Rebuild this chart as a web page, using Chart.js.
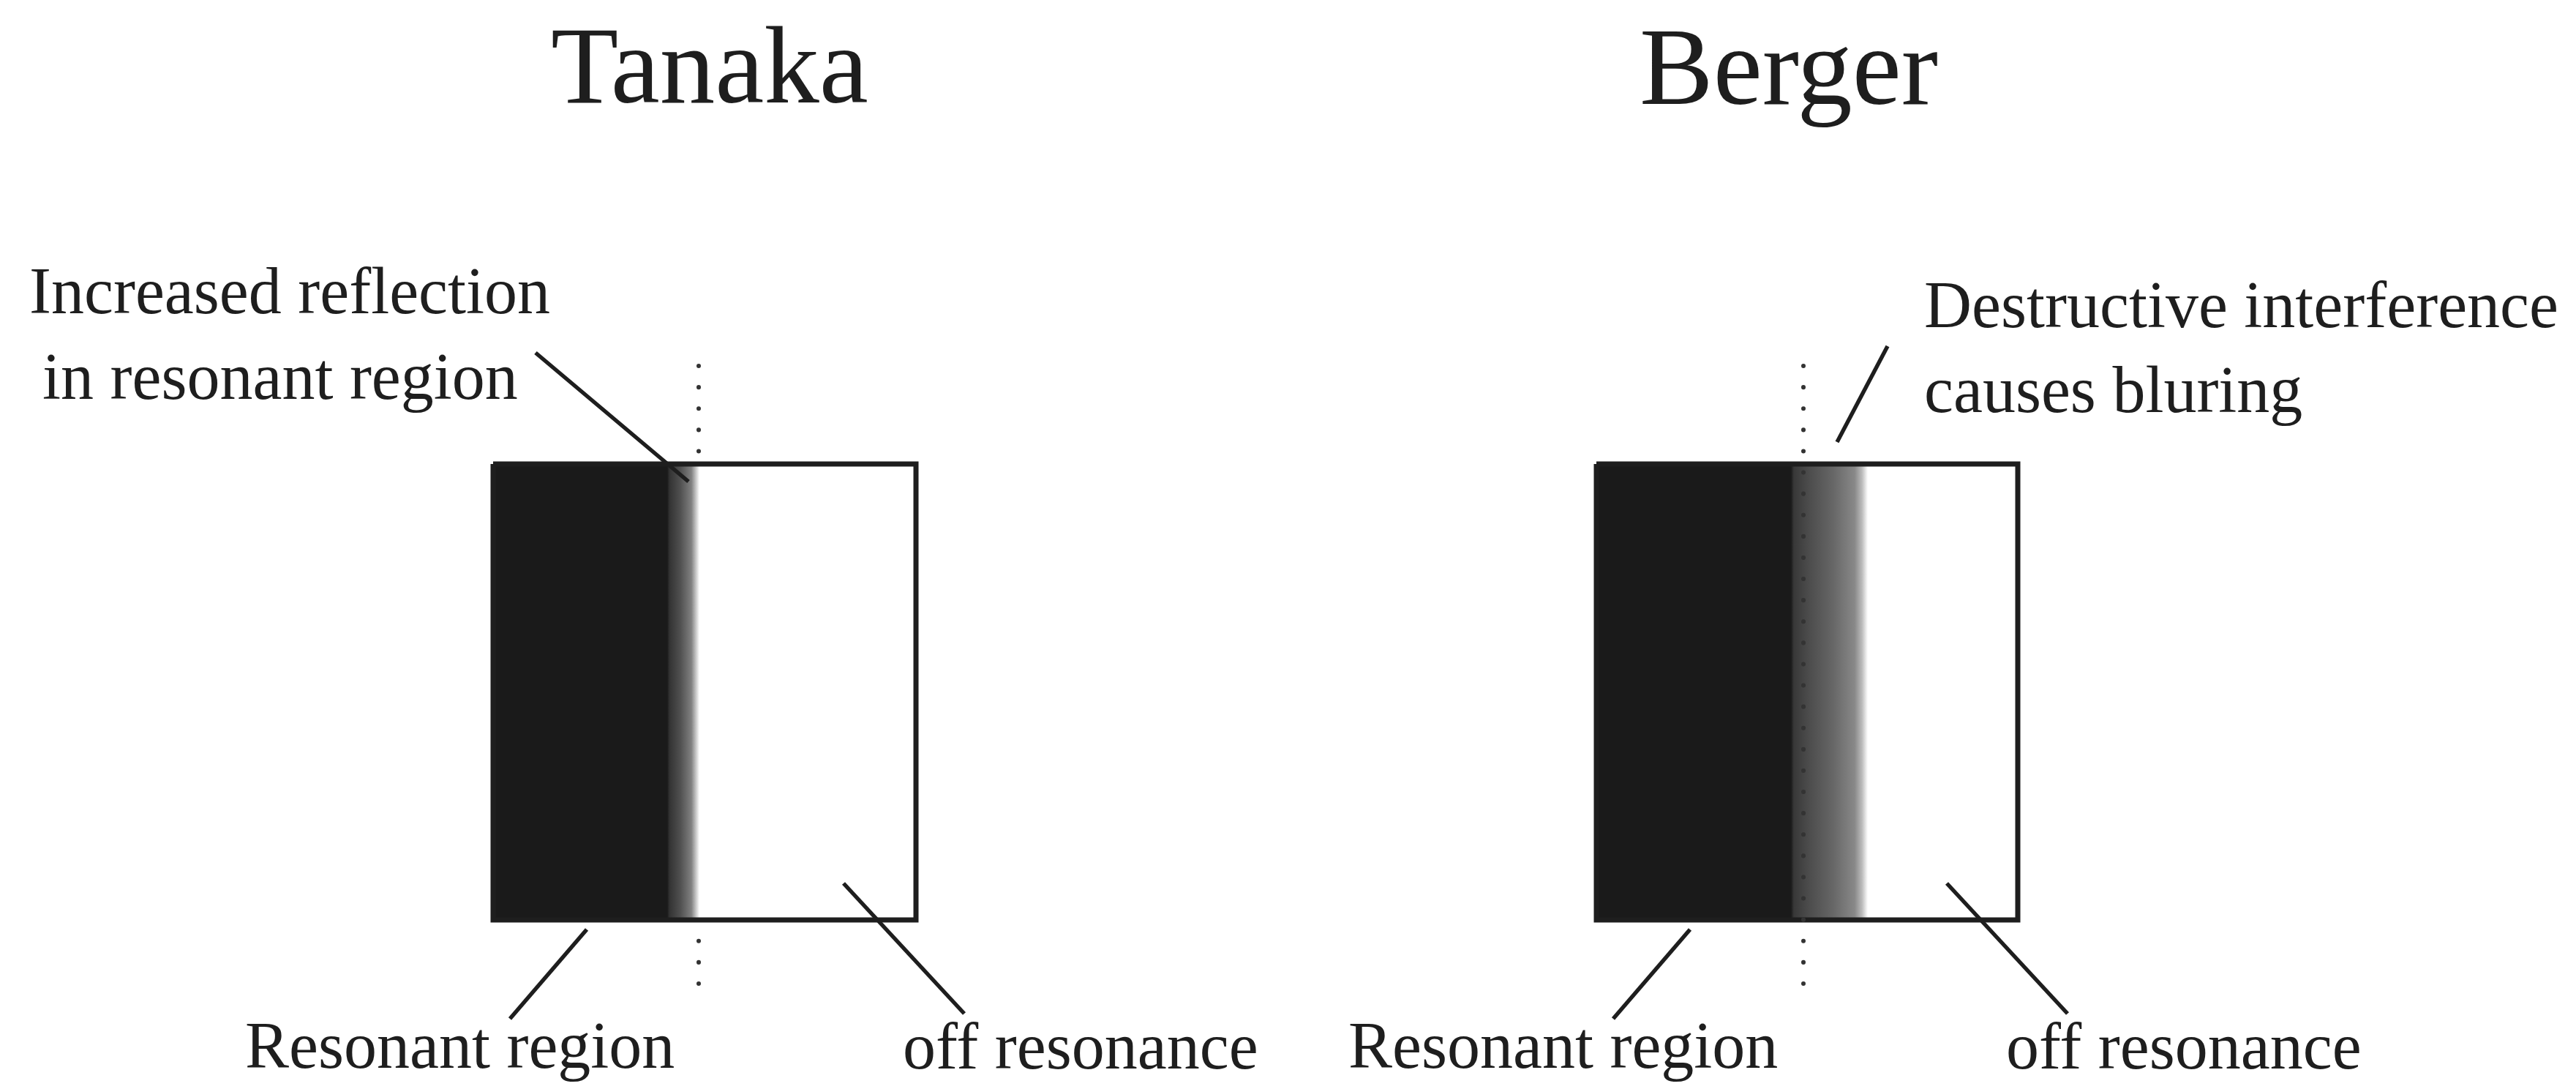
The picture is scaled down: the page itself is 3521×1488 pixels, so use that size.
<!DOCTYPE html>
<html>
<head>
<meta charset="utf-8">
<script src="https://cdn.jsdelivr.net/npm/chart.js@4/dist/chart.umd.min.js"></script>
<style>
  html, body { margin: 0; padding: 0; background: #ffffff; }
  #wrap { width: 3521px; height: 1488px; }
</style>
</head>
<body>
<div id="wrap"><canvas id="chart" width="3521" height="1488"></canvas></div>
<script>
// panels (diagram coordinates are in picture pixels, y grows downwards)
const panelTitles = ["Tanaka", "Berger"];
const titleX = [753, 2241];
const titleY = [140, 142];

const boxLeft = [674, 2182];
const boxRight = [1252, 2758];
const boxTop = [634, 634];
const boxBottom = [1257, 1257];

// grey level across the resonance edge of each box
const tanakaFadeX = [912, 915, 930, 945, 952, 956];
const tanakaFadeGrey = [26, 51, 80, 128, 208, 255];
const bergerFadeX = [2448, 2452, 2470, 2505, 2535, 2545, 2553];
const bergerFadeGrey = [26, 56, 74, 102, 136, 187, 255];

// dotted centre lines (the left one is hidden behind its box)
const dottedX = [955, 2465];
const dottedTop = [500, 500];
const dottedBottom = [1370, 1368];
const dottedBehind = [true, false];

// pointer lines: x1, y1, x2, y2
const pointers = [
  [732, 482, 941, 658],
  [2580, 473, 2511, 604],
  [802, 1270, 697, 1392],
  [1153, 1207, 1318, 1385],
  [2310, 1270, 2205, 1392],
  [2661, 1207, 2826, 1385]
];

// annotation texts with their left edge and baseline
const noteText = [
  "Increased reflection", "in resonant region",
  "Destructive interference", "causes bluring",
  "Resonant region", "off resonance",
  "Resonant region", "off resonance"
];
const noteX = [40, 58, 2630, 2630, 335, 1234, 1843, 2742];
const noteY = [428, 545, 447, 563, 1459, 1460, 1459, 1460];

const INK = "#1e1e1e";

function fadeFill(i, fadeX, fadeGrey) {
  return function (context) {
    const chart = context.chart;
    if (!chart.chartArea) return "#1a1a1a";
    const xs = chart.scales.x;
    const x0 = xs.getPixelForValue(boxLeft[i]);
    const x1 = xs.getPixelForValue(boxRight[i]);
    const g = chart.ctx.createLinearGradient(x0, 0, x1, 0);
    g.addColorStop(0, "rgb(26,26,26)");
    fadeX.forEach((x, k) => {
      const v = fadeGrey[k];
      g.addColorStop((x - boxLeft[i]) / (boxRight[i] - boxLeft[i]), `rgb(${v},${v},${v})`);
    });
    g.addColorStop(1, "#ffffff");
    return g;
  };
}

const datasets = [];

// boxes with shaded resonant part
[tanakaFadeX, bergerFadeX].forEach((fx, i) => {
  const fg = i === 0 ? tanakaFadeGrey : bergerFadeGrey;
  datasets.push({
    type: "line",
    data: [
      { x: boxLeft[i], y: boxTop[i] },
      { x: boxRight[i], y: boxTop[i] },
      { x: boxRight[i], y: boxBottom[i] },
      { x: boxLeft[i], y: boxBottom[i] },
      { x: boxLeft[i], y: boxTop[i] }
    ],
    borderColor: INK,
    borderWidth: 7,
    borderJoinStyle: "miter",
    fill: "shape",
    backgroundColor: fadeFill(i, fx, fg),
    pointRadius: 0,
    tension: 0,
    order: 3
  });
});

// dotted lines
dottedX.forEach((x, i) => {
  datasets.push({
    type: "line",
    data: [{ x: x, y: dottedTop[i] }, { x: x, y: dottedBottom[i] }],
    borderColor: "#333333",
    borderWidth: 6,
    borderDash: [0.1, 29],
    borderCapStyle: "round",
    pointRadius: 0,
    fill: false,
    order: dottedBehind[i] ? 4 : 2
  });
});

// pointer lines
pointers.forEach((p) => {
  datasets.push({
    type: "line",
    data: [{ x: p[0], y: p[1] }, { x: p[2], y: p[3] }],
    borderColor: INK,
    borderWidth: 5.5,
    borderCapStyle: "butt",
    pointRadius: 0,
    fill: false,
    order: 1
  });
});

const textPlugin = {
  id: "labels",
  afterDatasetsDraw(chart) {
    const c = chart.ctx;
    const xs = chart.scales.x;
    const ys = chart.scales.y;
    c.save();
    c.fillStyle = INK;
    c.textAlign = "left";
    c.textBaseline = "alphabetic";
    c.font = '151px "Liberation Serif", "Times New Roman", serif';
    panelTitles.forEach((t, i) => {
      c.fillText(t, xs.getPixelForValue(titleX[i]), ys.getPixelForValue(titleY[i]));
    });
    c.font = '90px "Liberation Serif", "Times New Roman", serif';
    noteText.forEach((t, i) => {
      c.fillText(t, xs.getPixelForValue(noteX[i]), ys.getPixelForValue(noteY[i]));
    });
    c.restore();
  }
};

new Chart(document.getElementById("chart").getContext("2d"), {
  type: "scatter",
  data: { datasets: datasets },
  options: {
    responsive: false,
    maintainAspectRatio: false,
    animation: false,
    devicePixelRatio: 1,
    layout: { padding: 0 },
    plugins: {
      legend: { display: false },
      tooltip: { enabled: false },
      title: { display: false }
    },
    scales: {
      x: { type: "linear", min: 0, max: 3521, display: false },
      y: { type: "linear", min: 0, max: 1488, reverse: true, display: false }
    }
  },
  plugins: [textPlugin]
});
</script>
</body>
</html>
